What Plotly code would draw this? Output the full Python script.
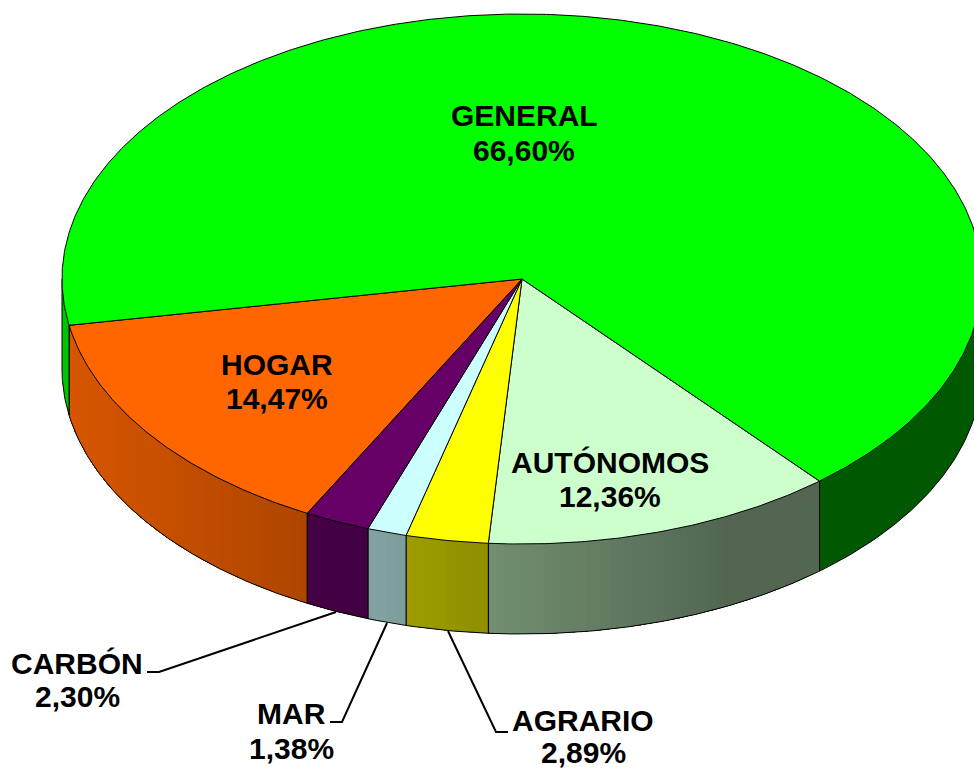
import math
import plotly.graph_objects as go

# Data, clockwise on screen from the AUTÓNOMOS / GENERAL boundary
categories = ["AUTÓNOMOS", "AGRARIO", "MAR", "CARBÓN", "HOGAR", "GENERAL"]
values = [12.36, 2.89, 1.38, 2.30, 14.47, 66.60]

# Styles
top_colors = ["#CCFFCC", "#FFFF00", "#CCFFFF", "#660066", "#FF6600", "#00FF00"]

# Pie geometry (pixels on the page-sized axes)
CX, CY, RX, RY, DEPTH = 522, 279, 460, 265, 90
START_DEG = 49.7
W, H = 974, 769
FONT = "Liberation Sans, Arial, sans-serif"

label_pos = {
    "AUTÓNOMOS": (610, 462, 496),
    "AGRARIO": (583, 720, 752),
    "MAR": (291, 713, 748),
    "CARBÓN": (77, 663, 696),
    "HOGAR": (277, 364, 398),
    "GENERAL": (524, 115, 150),
}
leaders = [
    ([147, 159, 336], [672, 672, 612]),
    ([330, 342, 387], [722, 722, 623]),
    ([508, 496, 448], [732, 732, 631]),
]


def px(t):
    return CX + RX * math.cos(math.radians(t))


def py(t, dz=0):
    return CY + RY * math.sin(math.radians(t)) + dz


def shade(hex_color, x):
    """Side-wall darkening follows the horizontal position of the wall."""
    if x > 820:
        f = 0.35
    elif x < 70:
        f = 0.76
    else:
        f = max(0.40, 0.89 - 0.00067 * x)
    r, g, b = (int(hex_color[i:i + 2], 16) for i in (1, 3, 5))
    return f"rgb({r * f:.0f},{g * f:.0f},{b * f:.0f})"


def arc(a, b, step=0.5):
    n = max(2, int(abs(b - a) / step) + 1)
    return [a + (b - a) * i / (n - 1) for i in range(n)]


fig = go.Figure()


def poly(xs, ys, fill=None, line="black", width=1):
    fig.add_trace(go.Scatter(
        x=xs, y=ys, mode="lines", hoverinfo="skip", showlegend=False,
        fill="toself" if fill else "none", fillcolor=fill,
        line=dict(color=line, width=width),
    ))


# Slice angles derived from the values
total = sum(values)
edges = [START_DEG]
for v in values:
    edges.append(edges[-1] + v / total * 360)


def wall(a, b, color, strip=None):
    """One side wall between angles a and b; each shaded band paints over the
    rest of the wall so that no seams show between neighbouring bands."""
    starts = arc(a, b, strip)[:-1] if strip else [a]
    for t0 in starts:
        ang = arc(t0, b, 0.5)
        xs = [px(t) for t in ang]
        top = [py(t) for t in ang]
        bot = [py(t, DEPTH) for t in ang]
        c = shade(color, px(t0))
        poly(xs + xs[::-1] + xs[:1], top + bot[::-1] + top[:1], fill=c, line="rgba(0,0,0,0)", width=0)
    ang = arc(a, b)
    xs = [px(t) for t in ang]
    poly(xs, [py(t, DEPTH) for t in ang])
    poly([px(a), px(a)], [py(a), py(a, DEPTH)])
    poly([px(b), px(b)], [py(b), py(b, DEPTH)])


# Side walls of the visible front half
for i in range(len(values)):
    a, b = edges[i], edges[i + 1]
    if i == len(values) - 1:  # GENERAL wraps round: left sliver and right wall
        wall(a, 180, top_colors[i])
        wall(360, 360 + START_DEG, top_colors[i])
    else:
        wall(a, b, top_colors[i], strip=1.0)

# Top faces
for i, col in enumerate(top_colors):
    ang = arc(edges[i], edges[i + 1])
    xs = [CX] + [px(t) for t in ang] + [CX]
    ys = [CY] + [py(t) for t in ang] + [CY]
    poly(xs, ys, fill=col)

# Leader lines
for lx, ly in leaders:
    poly(lx, ly, width=2)

# Labels
annotations = []
for name, v in zip(categories, values):
    x, y1, y2 = label_pos[name]
    for y, txt in ((y1, name), (y2, f"{v:.2f}%".replace(".", ","))):
        annotations.append(dict(
            x=x, y=y, text=f"<b>{txt}</b>", showarrow=False,
            xanchor="center", yanchor="middle",
            font=dict(family=FONT, size=30, color="black"),
        ))

fig.update_layout(
    width=W, height=H, margin=dict(l=0, r=0, t=0, b=0),
    paper_bgcolor="white", plot_bgcolor="white", showlegend=False,
    xaxis=dict(range=[0, W], visible=False, fixedrange=True),
    yaxis=dict(range=[H, 0], visible=False, fixedrange=True),
    annotations=annotations,
)

fig.write_html("out.html", config={"displayModeBar": False},
               post_script="document.body.style.margin='0';")
